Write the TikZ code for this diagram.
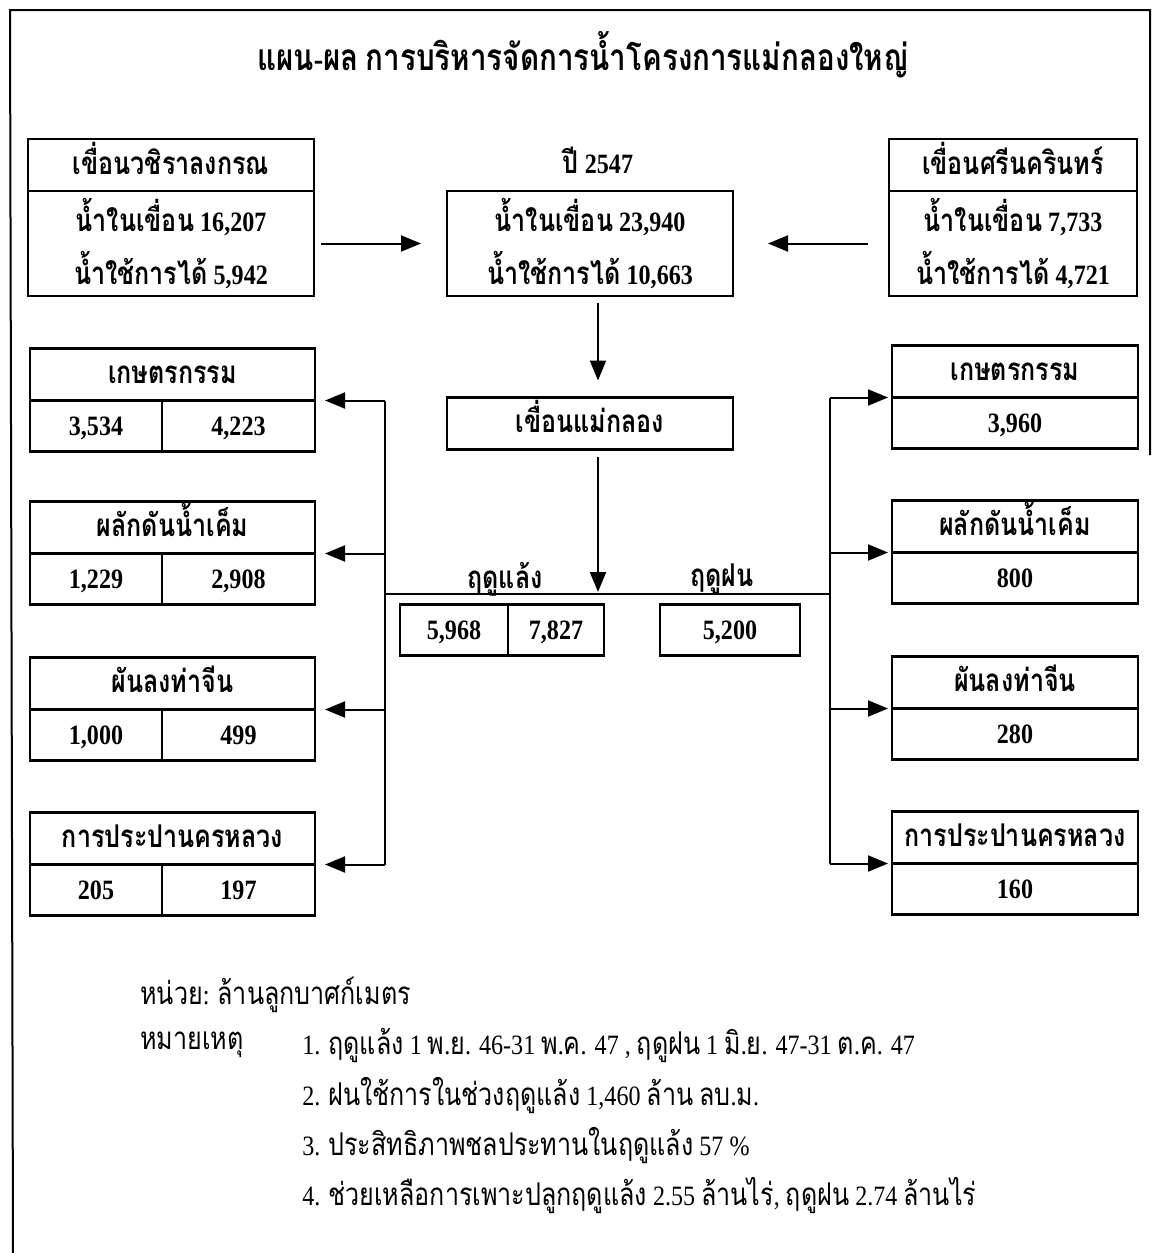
\documentclass[tikz,border=0pt]{standalone}
\usepackage{fontspec}
\setmainfont{Liberation Serif}[FakeStretch=0.86]
\newfontfamily\thaifont{Loma}[Script=Thai, Scale=1.12, FakeStretch=0.8]
\newfontfamily\latnfont{Liberation Serif}[FakeStretch=0.86]
\usetikzlibrary{positioning, arrows.meta}

% Thai runs in Loma, digits and Latin in Liberation Serif
\XeTeXinterchartokenstate=1
\newXeTeXintercharclass\thaiclass
\count255="0E01\relax
\loop
  \XeTeXcharclass\count255=\thaiclass
  \ifnum\count255<"0E5B\relax
  \advance\count255 by 1
\repeat
\XeTeXinterchartoks 0 \thaiclass = {\thaifont}
\XeTeXinterchartoks 4095 \thaiclass = {\thaifont}
\XeTeXinterchartoks \thaiclass 0 = {\latnfont}
\XeTeXinterchartoks \thaiclass 4095 = {\latnfont}

\begin{document}
\begin{tikzpicture}[x=0.5pt, y=-0.5pt,
    box/.style={draw, line width=1.2pt, inner sep=0pt, outer sep=0pt, align=center,
        font=\bfseries\fontsize{14}{26.5}\selectfont},
    hdr/.style={box, minimum height=26pt, text height=11pt, text depth=2pt},
    cell/.style={box, minimum height=25.5pt, text height=11pt, text depth=2pt},
    arr/.style={line width=1pt, -{Triangle[length=10pt, width=8pt]}},
    bus/.style={line width=1pt},
    lbl/.style={font=\bfseries\fontsize{14}{16}\selectfont},
    note/.style={anchor=west, inner sep=0pt, font=\fontsize{14}{16}\selectfont}]
    \useasboundingbox (0,0) rectangle (1158,1253);

    % Frame
    \draw[line width=1pt] (13,1253) -- (10,10) -- (1150,10) -- (1150,455);

    % Title
    \node[font=\bfseries\fontsize{16.5}{20}\selectfont] (title) at (583,55)
        {แผน-ผล การบริหารจัดการน้ำโครงการแม่กลองใหญ่};

    % Dams feeding the year total
    \node[hdr, minimum width=143pt] (wvl) at (171,165) {เขื่อนวชิราลงกรณ};
    \node[box, minimum width=143pt, minimum height=52.5pt, below=0pt of wvl] (wvlb)
        {น้ำในเขื่อน 16,207\\น้ำใช้การได้ 5,942};
    \node[box, minimum width=143pt, minimum height=52.5pt] (c47) at (590,243.5)
        {น้ำในเขื่อน 23,940\\น้ำใช้การได้ 10,663};
    \node[lbl, above=5pt of c47, xshift=4pt] (yr) {ปี 2547};
    \node[hdr, minimum width=124pt] (srn) at (1013,165) {เขื่อนศรีนครินทร์};
    \node[box, minimum width=124pt, minimum height=52.5pt, below=0pt of srn] (srnb)
        {น้ำในเขื่อน 7,733\\น้ำใช้การได้ 4,721};

    \draw[arr, shorten <=3.5pt, shorten >=13pt] (wvlb.east) -- (c47.west);
    \draw[arr, shorten <=10.5pt, shorten >=17.5pt] (srnb.west) -- (c47.east);

    % Mae Klong dam and the split
    \node[hdr, minimum width=143pt] (mk) at (590,423.5) {เขื่อนแม่กลอง};
    \coordinate (jn) at (598,594);
    \coordinate (lbus) at (385,594);
    \coordinate (rbus) at (830,594);

    \draw[arr, shorten <=3.5pt, shorten >=8.5pt] (c47.south -| jn) -- (mk.north -| jn);
    \draw[arr, shorten <=3.5pt, shorten >=1pt] (mk.south -| jn) -- (jn);
    \draw[bus] (lbus) -- (rbus);

    % Seasons
    \node[lbl] (dryl) at (505,579) {ฤดูแล้ง};
    \node[lbl] (wetl) at (722,579) {ฤดูฝน};
    \node[cell, minimum width=54pt] (d1) at (454,630) {5,968};
    \node[cell, minimum width=48pt, right=0pt of d1] (d2) {7,827};
    \node[cell, minimum width=70pt] (w1) at (730,630) {5,200};

    % Dry season users
    \node[hdr, minimum width=142.5pt] (agl) at (172.5,374.5) {เกษตรกรรม};
    \node[cell, minimum width=66pt, below right=0pt of agl.south west] (agl1) {3,534};
    \node[cell, minimum width=76.5pt, below left=0pt of agl.south east] (agl2) {4,223};
    \node[hdr, minimum width=142.5pt] (sal) at (172.5,527.5) {ผลักดันน้ำเค็ม};
    \node[cell, minimum width=66pt, below right=0pt of sal.south west] (sal1) {1,229};
    \node[cell, minimum width=76.5pt, below left=0pt of sal.south east] (sal2) {2,908};
    \node[hdr, minimum width=142.5pt] (tcl) at (172.5,683.5) {ผันลงท่าจีน};
    \node[cell, minimum width=66pt, below right=0pt of tcl.south west] (tcl1) {1,000};
    \node[cell, minimum width=76.5pt, below left=0pt of tcl.south east] (tcl2) {499};
    \node[hdr, minimum width=142.5pt] (mwl) at (172.5,838.5) {การประปานครหลวง};
    \node[cell, minimum width=66pt, below right=0pt of mwl.south west] (mwl1) {205};
    \node[cell, minimum width=76.5pt, below left=0pt of mwl.south east] (mwl2) {197};

    \draw[bus] (lbus |- agl.south east) -- (lbus |- mwl.south east);
    \draw[arr, shorten >=5pt] (lbus |- agl.south east) -- (agl.south east);
    \draw[arr, shorten >=5pt] (lbus |- sal.south east) -- (sal.south east);
    \draw[arr, shorten >=5pt] (lbus |- tcl.south east) -- (tcl.south east);
    \draw[arr, shorten >=5pt] (lbus |- mwl.south east) -- (mwl.south east);

    % Wet season users
    \node[hdr, minimum width=123pt] (agr) at (1015,371.5) {เกษตรกรรม};
    \node[cell, minimum width=123pt, below=0pt of agr] (agr1) {3,960};
    \node[hdr, minimum width=123pt] (sar) at (1015,526.5) {ผลักดันน้ำเค็ม};
    \node[cell, minimum width=123pt, below=0pt of sar] (sar1) {800};
    \node[hdr, minimum width=123pt] (tcr) at (1015,682.5) {ผันลงท่าจีน};
    \node[cell, minimum width=123pt, below=0pt of tcr] (tcr1) {280};
    \node[hdr, minimum width=123pt] (mwr) at (1015,837.5) {การประปานครหลวง};
    \node[cell, minimum width=123pt, below=0pt of mwr] (mwr1) {160};

    \draw[bus] (rbus |- agr.south west) -- (rbus |- mwr.south west);
    \draw[arr, shorten >=2pt] (rbus |- agr.south west) -- (agr.south west);
    \draw[arr, shorten >=2pt] (rbus |- sar.south west) -- (sar.south west);
    \draw[arr, shorten >=2pt] (rbus |- tcr.south west) -- (tcr.south west);
    \draw[arr, shorten >=2pt] (rbus |- mwr.south west) -- (mwr.south west);

    % Notes
    \node[note] (unit) at (140,995) {หน่วย: ล้านลูกบาศก์เมตร};
    \node[note] (rem) at (140,1045) {หมายเหตุ};
    \node[note] (r1) at (302,1045) {1. ฤดูแล้ง 1 พ.ย. 46-31 พ.ค. 47 , ฤดูฝน 1 มิ.ย. 47-31 ต.ค. 47};
    \node[note] (r2) at (302,1095) {2. ฝนใช้การในช่วงฤดูแล้ง 1,460 ล้าน ลบ.ม.};
    \node[note] (r3) at (302,1145) {3. ประสิทธิภาพชลประทานในฤดูแล้ง 57 \%};
    \node[note] (r4) at (302,1195) {4. ช่วยเหลือการเพาะปลูกฤดูแล้ง 2.55 ล้านไร่, ฤดูฝน 2.74 ล้านไร่};
\end{tikzpicture}
\end{document}
